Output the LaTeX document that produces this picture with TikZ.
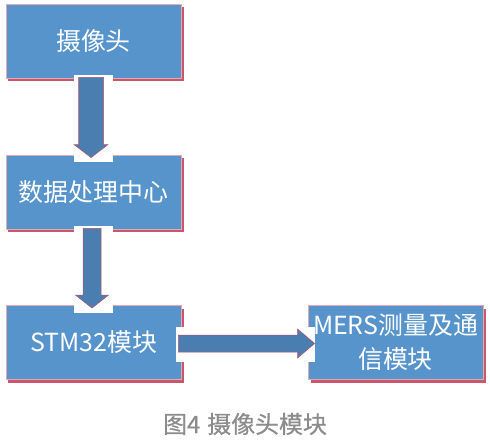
\documentclass[tikz,border=0pt]{standalone}
\usepackage{fontspec}
\newfontfamily\cjk{Noto Sans CJK SC}
\newfontfamily\capfont[FakeBold=0.6]{Noto Sans CJK SC}
\usetikzlibrary{calc,shadows}
\definecolor{boxblue}{RGB}{86,148,203}
\definecolor{boxedge}{RGB}{226,170,178}
\definecolor{shadowred}{RGB}{201,86,106}
\definecolor{arrowblue}{RGB}{74,126,176}
\definecolor{arrowedge}{RGB}{190,80,100}
\definecolor{capgray}{RGB}{140,140,140}
\tikzset{
  flowbox/.style={fill=boxblue, draw=boxedge, line width=0.8bp,
    minimum width=175bp, minimum height=74bp, inner sep=0pt,
    text=white, font=\cjk\fontsize{25}{34}\selectfont, align=center,
    drop shadow={shadow xshift=2.5bp, shadow yshift=-3bp, fill=shadowred, opacity=1}},
  blockarrow/.style={fill=arrowblue, draw=arrowedge, line width=0.5bp, line join=miter},
  gap/.style={fill=white},
  caption/.style={text=capgray, font=\capfont\fontsize{24}{28}\selectfont, inner sep=0pt}
}
% vertical block arrow: start, tip, shaft half width, head half width, head length
\newcommand\myvarrow[5]{%
  \path[blockarrow] let \p1=(#1), \p2=(#2) in
    (\x1-#3,\y1) -- (\x1+#3,\y1) -- (\x1+#3,\y2+#5) -- (\x1+#4,\y2+#5) -- (\x1,\y2)
    -- (\x1-#4,\y2+#5) -- (\x1-#3,\y2+#5) -- cycle;}
% horizontal block arrow
\newcommand\myharrow[5]{%
  \path[blockarrow] let \p1=(#1), \p2=(#2) in
    (\x1,\y1+#3) -- (\x1,\y1-#3) -- (\x2-#5,\y1-#3) -- (\x2-#5,\y1-#4) -- (\x2,\y1)
    -- (\x2-#5,\y1+#4) -- (\x2-#5,\y1+#3) -- cycle;}
\begin{document}
\begin{tikzpicture}[x=1bp,y=-1bp]
\fill[white] (0,0) rectangle (490,446);
\useasboundingbox (0,0) rectangle (490,446);

\node[flowbox] (n1) at (93.5,41) {摄像头};
\node[flowbox] (n2) at (93.5,192) {数据处理中心};
\node[flowbox] (n3) at (93.5,342.5) {STM32模块};
\node[flowbox] (n4) at (395.5,342.5) {MERS测量及通\\信模块};

% white gaps behind the arrows
\fill[gap] ([xshift=-19.5bp,yshift=3bp]n1.south) rectangle ([xshift=19.5bp,yshift=-7bp]n2.north);
\fill[gap] ([xshift=-19.5bp,yshift=3bp]n2.south) rectangle ([xshift=19.5bp,yshift=-8bp]n3.north);
\fill[gap] ([xshift=-5bp,yshift=16bp]n3.east) rectangle ([xshift=7bp,yshift=-19bp]n4.west);

\coordinate (a1s) at ([xshift=-2.5bp,yshift=1bp]n1.south);
\coordinate (a1e) at ([xshift=-2.5bp,yshift=-3bp]n2.north);
\coordinate (a2s) at ([xshift=-1.5bp,yshift=1bp]n2.south);
\coordinate (a2e) at ([xshift=-1.5bp,yshift=-3bp]n3.north);
\coordinate (a3s) at ([xshift=-3bp,yshift=-1bp]n3.east);
\coordinate (a3e) at ([xshift=7bp,yshift=-1bp]n4.west);

\myvarrow{a1s}{a1e}{12.5bp}{17bp}{13bp}
\myvarrow{a2s}{a2e}{9bp}{16.5bp}{13bp}
\myharrow{a3s}{a3e}{8.5bp}{14.5bp}{17bp}

\node[caption] (cap) at (245,424) {图4\hspace{7bp}摄像头模块};
\end{tikzpicture}
\end{document}
